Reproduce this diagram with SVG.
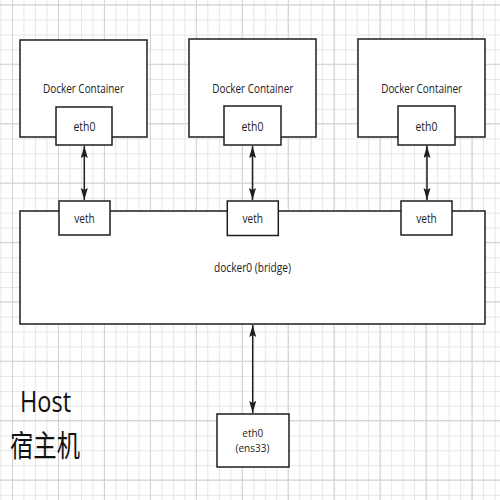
<svg xmlns="http://www.w3.org/2000/svg" width="500" height="500" viewBox="0 0 500 500">
<defs>
<style>
.box{fill:#fff;stroke:#1e1e1e;stroke-width:1.5}
.lbl{font-family:"Open Sans","Noto Sans",sans-serif;fill:#222;text-anchor:middle}
.conn{stroke:#1e1e1e;stroke-width:1.5;fill:none;marker-start:url(#arr);marker-end:url(#arr)}
</style>
<pattern id="gv" patternUnits="userSpaceOnUse" x="12" y="0" width="11.49" height="500"><rect x="0" y="0" width="1" height="500" fill="#e6e6e6"/></pattern>
<pattern id="gvM" patternUnits="userSpaceOnUse" x="12" y="0" width="45.96" height="500"><rect x="0" y="0" width="1" height="500" fill="#d2d2d2"/></pattern>
<pattern id="gh" patternUnits="userSpaceOnUse" x="0" y="4.8" width="500" height="14.85"><rect x="0" y="0" width="500" height="1" fill="#e6e6e6"/></pattern>
<pattern id="ghM" patternUnits="userSpaceOnUse" x="0" y="4.3" width="500" height="59.4"><rect x="0" y="0" width="500" height="1" fill="#d2d2d2"/></pattern>
<marker id="arr" markerUnits="userSpaceOnUse" markerWidth="13" markerHeight="8" refX="12" refY="3.5" orient="auto-start-reverse"><path d="M0,0 L12,3.5 L0,7 L2,3.5 z" fill="#1e1e1e"/></marker>
</defs>
<g id="background">
<rect width="500" height="500" fill="#fff"/>
<rect width="500" height="500" fill="url(#gv)"/>
<rect width="500" height="500" fill="url(#gh)"/>
<rect width="500" height="500" fill="url(#gvM)"/>
<rect width="500" height="500" fill="url(#ghM)"/>
</g>
<g id="bridge">
<rect class="box" x="20" y="211" width="465" height="113"/>
<text class="lbl" x="252.5" y="272" font-size="13" textLength="77" lengthAdjust="spacingAndGlyphs">docker0 (bridge)</text>
</g>
<g id="container1">
<rect class="box" x="20" y="40" width="127" height="97"/>
<text class="lbl" x="83.5" y="93" font-size="13" textLength="81" lengthAdjust="spacingAndGlyphs">Docker Container</text>
</g>
<g id="eth0-1">
<rect class="box" x="56" y="107" width="56" height="38"/>
<text class="lbl" x="84.5" y="131" font-size="13" textLength="22" lengthAdjust="spacingAndGlyphs">eth0</text>
</g>
<g id="container2">
<rect class="box" x="189" y="39" width="127" height="98"/>
<text class="lbl" x="252.8" y="93" font-size="13" textLength="81" lengthAdjust="spacingAndGlyphs">Docker Container</text>
</g>
<g id="eth0-2">
<rect class="box" x="224" y="106" width="57" height="39"/>
<text class="lbl" x="252.5" y="131" font-size="13" textLength="22" lengthAdjust="spacingAndGlyphs">eth0</text>
</g>
<g id="container3">
<rect class="box" x="358" y="39" width="127" height="98"/>
<text class="lbl" x="421.7" y="93" font-size="13" textLength="81" lengthAdjust="spacingAndGlyphs">Docker Container</text>
</g>
<g id="eth0-3">
<rect class="box" x="398" y="106" width="57" height="39"/>
<text class="lbl" x="426.5" y="131" font-size="13" textLength="22" lengthAdjust="spacingAndGlyphs">eth0</text>
</g>
<g id="veth1">
<rect class="box" x="59" y="201" width="51" height="34"/>
<text class="lbl" x="84.5" y="223" font-size="13" textLength="20.5" lengthAdjust="spacingAndGlyphs">veth</text>
</g>
<g id="veth2">
<rect class="box" x="227.3" y="201" width="51" height="34.5"/>
<text class="lbl" x="252.8" y="223" font-size="13" textLength="20.5" lengthAdjust="spacingAndGlyphs">veth</text>
</g>
<g id="veth3">
<rect class="box" x="401" y="201" width="51" height="34"/>
<text class="lbl" x="426.5" y="223" font-size="13" textLength="20.5" lengthAdjust="spacingAndGlyphs">veth</text>
</g>
<g id="host-eth0">
<rect class="box" x="217" y="414" width="72" height="53"/>
<text class="lbl" x="252.8" y="437" font-size="11.5" textLength="21" lengthAdjust="spacingAndGlyphs">eth0</text>
<text class="lbl" x="252.5" y="452" font-size="11.5" textLength="34" lengthAdjust="spacingAndGlyphs">(ens33)</text>
</g>
<g id="host-label">
<text x="20" y="412" font-family="'Open Sans','Noto Sans',sans-serif" font-size="29" fill="#111" textLength="51" lengthAdjust="spacingAndGlyphs">Host</text>
<text x="10" y="456" font-family="'Noto Sans CJK SC',sans-serif" font-size="30" fill="#111" textLength="70" lengthAdjust="spacingAndGlyphs">宿主机</text>
</g>
<g id="connectors">
<line class="conn" x1="84.3" y1="146" x2="84.3" y2="200"/>
<line class="conn" x1="252.5" y1="146" x2="252.5" y2="200"/>
<line class="conn" x1="427" y1="146" x2="427" y2="200"/>
<line class="conn" x1="252.7" y1="325" x2="252.7" y2="413"/>
</g>
</svg>
